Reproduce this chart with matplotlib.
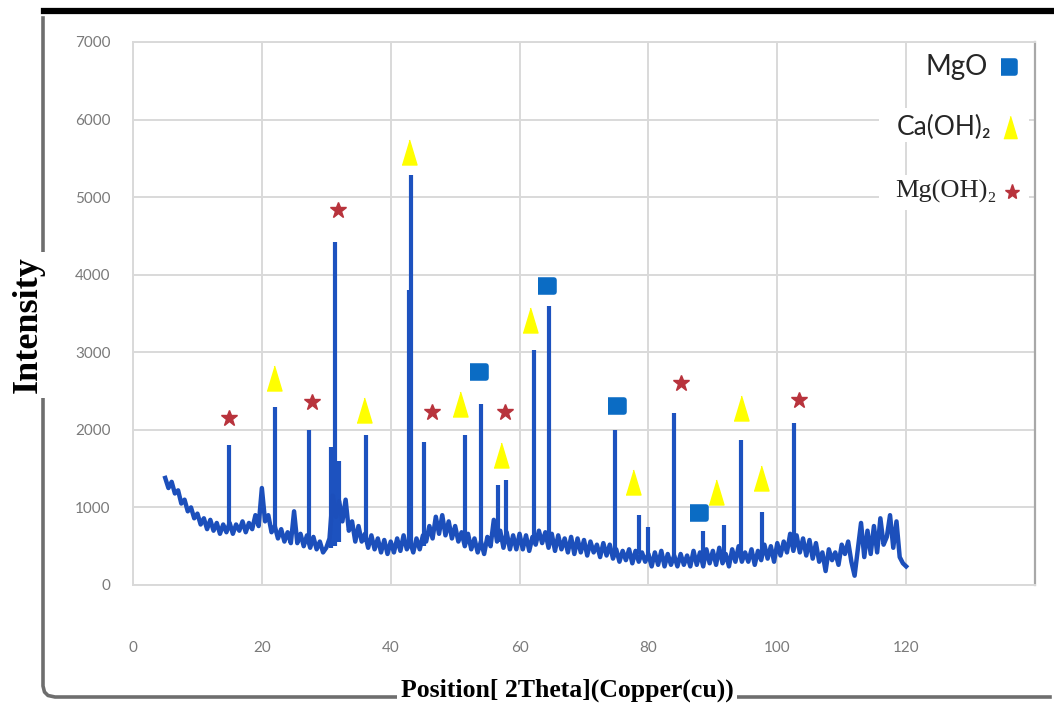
import numpy as np
import matplotlib.pyplot as plt
from matplotlib.lines import Line2D
from matplotlib.markers import MarkerStyle
from matplotlib.patches import Rectangle

# XRD scan: 2theta grid (0.5 deg steps) and background intensity
two_theta = np.arange(5.0, 120.01, 0.5)
background = [
    1380, 1250, 1330, 1180, 1220, 1050, 1100, 950, 1000, 860,    # 5 - 9.5
    920, 780, 860, 720, 840, 700, 800, 660, 780, 680,            # 10 - 14.5
    800, 660, 780, 700, 820, 680, 800, 720, 900, 760,            # 15 - 19.5
    1250, 820, 900, 680, 760, 600, 720, 560, 680, 540,           # 20 - 24.5
    950, 540, 660, 500, 640, 480, 620, 460, 560, 420,            # 25 - 29.5
    480, 600, 1150, 880, 1080, 820, 1100, 700, 820, 560,         # 30 - 34.5
    760, 560, 660, 480, 640, 460, 600, 420, 580, 400,            # 35 - 39.5
    560, 420, 600, 440, 640, 460, 560, 420, 600, 460,            # 40 - 44.5
    640, 560, 760, 600, 880, 660, 900, 640, 820, 600,            # 45 - 49.5
    760, 560, 680, 500, 660, 460, 600, 420, 560, 400,            # 50 - 54.5
    620, 500, 840, 560, 700, 480, 680, 460, 640, 460,            # 55 - 59.5
    660, 460, 640, 440, 620, 520, 700, 540, 680, 480,            # 60 - 64.5
    660, 440, 640, 460, 600, 420, 620, 400, 600, 420,            # 65 - 69.5
    580, 380, 560, 420, 520, 360, 540, 380, 520, 340,            # 70 - 74.5
    460, 300, 440, 320, 460, 280, 440, 300, 420, 300,            # 75 - 79.5
    400, 240, 420, 260, 440, 240, 400, 260, 380, 240,            # 80 - 84.5
    400, 260, 380, 240, 440, 260, 420, 240, 460, 280,            # 85 - 89.5
    440, 260, 480, 280, 400, 240, 460, 300, 500, 300,            # 90 - 94.5
    420, 300, 460, 260, 440, 320, 520, 340, 500, 300,            # 95 - 99.5
    540, 380, 560, 420, 660, 440, 640, 420, 600, 380,            # 100 - 104.5
    580, 340, 540, 300, 420, 180, 460, 320, 420, 260,            # 105 - 109.5
    520, 400, 560, 300, 120, 460, 800, 360, 700, 400,            # 110 - 114.5
    760, 420, 860, 520, 620, 900, 480, 820, 360, 280,            # 115 - 119.5
    240,                                                         # 120
]

# diffraction peaks: position, top and foot of each spike
peak_pos = [14.9, 22.0, 27.3, 30.8, 31.4, 32.0, 36.2, 42.8, 43.1, 45.2, 51.5, 54.0,
            56.7, 57.9, 62.3, 64.5, 74.8, 78.6, 80.0, 83.9, 88.5, 91.8, 94.3, 97.7, 102.6]
peak_top = [1800, 2300, 2000, 1780, 4420, 1600, 1930, 3800, 5280, 1840, 1940, 2330,
            1290, 1350, 3030, 3600, 2000, 900, 750, 2215, 700, 770, 1870, 940, 2090]
peak_base = [720, 700, 560, 480, 500, 560, 560, 500, 500, 500, 620, 520,
             560, 560, 560, 580, 420, 400, 340, 300, 340, 350, 360, 380, 500]

# phase labels
mgo_x = [53.6, 64.1, 75.0, 87.7]
mgo_y = [2745, 3853, 2307, 928]
caoh_x = [21.9, 35.9, 42.9, 50.8, 57.1, 61.6, 77.6, 90.5, 94.3, 97.4]
caoh_y = [2668, 2255, 5580, 2332, 1675, 3415, 1327, 1198, 2281, 1379]
mgoh_x = [14.9, 27.8, 31.8, 46.4, 57.8, 85.1, 103.3]
mgoh_y = [2152, 2358, 4832, 2229, 2229, 2603, 2384]

x_ticks = [0, 20, 40, 60, 80, 100, 120, 140]
x_labels = ['0', '20', '40', '60', '80', '100', '120', '']
y_ticks = [0, 1000, 2000, 3000, 4000, 5000, 6000, 7000]

W, H = 1054, 711
fig = plt.figure(figsize=(W / 100, H / 100), dpi=100)
ax = fig.add_axes([133 / W, 1 - 585 / H, (1035 - 133) / W, (585 - 42) / H])

line_blue = '#1c4fbb'
square = MarkerStyle([(-1, -0.8), (1, -0.8), (1, 0.8), (-1, 0.8)], joinstyle='round')
triangle = MarkerStyle([(-0.6, -1), (0.6, -1), (0, 1)], joinstyle='round')

ax.vlines(peak_pos, peak_base, peak_top, color='#1d52bf', lw=3, zorder=3)
ax.plot(two_theta, background, color=line_blue, lw=3.2, solid_joinstyle='round', zorder=4)

ax.plot(mgo_x, mgo_y, ls='none', marker=square, ms=11, mfc='#0b6cc4', mec='#0b6cc4', mew=4, zorder=5)
ax.plot(caoh_x, caoh_y, ls='none', marker=triangle, ms=18, mfc='#ffff00', mec='#ffff00', mew=1, zorder=5)
ax.plot(mgoh_x, mgoh_y, ls='none', marker='*', ms=12, color='#b8333c', zorder=5)

ax.set_xlim(0, 140)
ax.set_ylim(0, 7000)
ax.set_xticks(x_ticks)
ax.set_xticklabels(x_labels)
ax.set_yticks(y_ticks)
ax.grid(True, color='#d9d9d9', lw=1.4)
ax.set_axisbelow(True)
ax.tick_params(length=0, labelcolor='#7a7a7a', labelsize=11)
ax.tick_params(axis='x', pad=40)
ax.tick_params(axis='y', pad=16)
for lab in ax.get_xticklabels() + ax.get_yticklabels():
    lab.set_family(['Lato', 'DejaVu Sans'])
for side in ['left', 'bottom', 'top']:
    ax.spines[side].set_color('#d9d9d9')
    ax.spines[side].set_linewidth(1.4)
ax.spines['right'].set_color('#a8a8a8')
ax.spines['right'].set_linewidth(1.6)

# legend, drawn by hand to keep the text right aligned next to its marker
for y0, y1 in [(0.816, 0.878), (0.691, 0.755)]:
    ax.add_patch(Rectangle((0.827, y0), 0.166, y1 - y0, transform=ax.transAxes,
                           fc='white', ec='none', zorder=2))
ax.text(0.948, 0.954, 'MgO', transform=ax.transAxes, ha='right', va='center',
        family=['Lato', 'DejaVu Sans'], fontsize=20, color='#262626', zorder=6)
ax.text(0.952, 0.843, 'Ca(OH)\u2082', transform=ax.transAxes, ha='right', va='center',
        family=['Lato', 'DejaVu Sans'], fontsize=19, color='#262626', zorder=6)
ax.text(0.958, 0.724, 'Mg(OH)\u2082', transform=ax.transAxes, ha='right', va='center',
        family=['Liberation Serif', 'DejaVu Serif'], fontsize=19, color='#262626', zorder=6)
ax.plot([0.970], [0.954], transform=ax.transAxes, clip_on=False, ls='none', marker=square,
        ms=10, mfc='#0b6cc4', mec='#0b6cc4', mew=4, zorder=6)
ax.plot([0.972], [0.843], transform=ax.transAxes, clip_on=False, ls='none', marker=triangle,
        ms=16, mfc='#ffff00', mec='#ffff00', zorder=6)
ax.plot([0.975], [0.724], transform=ax.transAxes, clip_on=False, ls='none', marker='*',
        ms=11, color='#b8333c', zorder=6)


def fx(x, y):
    return x / W, 1 - y / H


# outer frame of the figure
top = [fx(44, 11), fx(1054, 11)]
fig.add_artist(Line2D([p[0] for p in top], [p[1] for p in top], color='black', lw=4.5))
corner = [fx(43, 18), fx(43, 686), fx(44.5, 692), fx(48, 695.5), fx(55, 697), fx(1050, 697)]
fig.add_artist(Line2D([p[0] for p in corner], [p[1] for p in corner], color='#6e6e6e', lw=2.6,
                      solid_joinstyle='round'))

fig.text(28 / W, 1 - 325 / H, 'Intensity', rotation=90, ha='center', va='center',
         family='Liberation Serif', weight='bold', fontsize=26, color='black',
         bbox=dict(fc='white', ec='none', pad=3))
fig.text(567 / W, 1 - 690 / H, 'Position[ 2Theta](Copper(cu))', ha='center', va='center',
         family='Liberation Serif', weight='bold', fontsize=18.5, color='black',
         bbox=dict(fc='white', ec='none', pad=3))

fig.savefig('out.png', dpi=100)
